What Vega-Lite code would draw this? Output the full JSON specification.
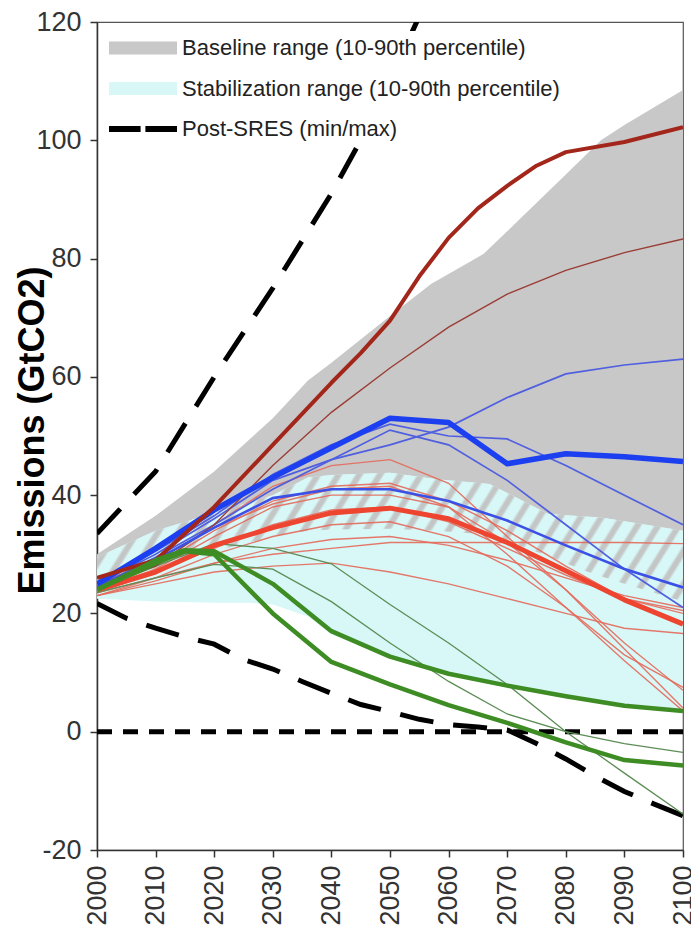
{
  "$schema": "https://vega.github.io/schema/vega-lite/v6.json",
  "width": 586,
  "height": 828,
  "autosize": {"type": "none"},
  "padding": {"left": 97, "top": 22, "right": 8, "bottom": 75},
  "background": "white",
  "config": {
    "font": "Liberation Sans",
    "view": {"stroke": "#555", "strokeWidth": 1.2},
    "axis": {"domainColor": "#333", "domainWidth": 1.5, "tickColor": "#333", "tickWidth": 1.5, "labelColor": "#333", "labelFontSize": 27, "grid": false, "labelFlush": false, "labelOverlap": false}
  },
  "datasets": {
    "baseline": [
      {"year": 2000, "v": 24.5, "hi": 30}, {"year": 2010, "v": 27, "hi": 36.5}, {"year": 2020, "v": 30.5, "hi": 44},
      {"year": 2030, "v": 33, "hi": 53}, {"year": 2036, "v": 34, "hi": 59.4}, {"year": 2040, "v": 34.2, "hi": 62.4},
      {"year": 2050, "v": 34.3, "hi": 70.3}, {"year": 2057, "v": 34, "hi": 75.7}, {"year": 2066, "v": 33.5, "hi": 80.8},
      {"year": 2070, "v": 32.5, "hi": 84.6}, {"year": 2080, "v": 28.5, "hi": 94.2}, {"year": 2086, "v": 26.3, "hi": 100},
      {"year": 2090, "v": 25, "hi": 102.6}, {"year": 2100, "v": 22, "hi": 108.5}
    ],
    "stab": [
      {"year": 2000, "v": 22.5, "hi": 29.5}, {"year": 2010, "v": 22, "hi": 34}, {"year": 2020, "v": 21.8, "hi": 37},
      {"year": 2026, "v": 21.8, "hi": 38.5}, {"year": 2030, "v": 21.5, "hi": 40}, {"year": 2036, "v": 19.5, "hi": 43},
      {"year": 2040, "v": 16.5, "hi": 43.4}, {"year": 2050, "v": 12.5, "hi": 43.8}, {"year": 2058, "v": 10.2, "hi": 42.7},
      {"year": 2067, "v": 8.2, "hi": 41.9}, {"year": 2077, "v": 6.5, "hi": 36.8}, {"year": 2086, "v": 5.2, "hi": 36.2},
      {"year": 2090, "v": 4.3, "hi": 35.6}, {"year": 2100, "v": 3.3, "hi": 34}
    ],
    "overlap": [
      {"year": 2000, "v": 24.5, "hi": 29.5}, {"year": 2010, "v": 27, "hi": 34}, {"year": 2020, "v": 30.5, "hi": 37},
      {"year": 2030, "v": 33, "hi": 40}, {"year": 2036, "v": 34, "hi": 43}, {"year": 2040, "v": 34.2, "hi": 43.4},
      {"year": 2050, "v": 34.3, "hi": 43.8}, {"year": 2058, "v": 34, "hi": 42.7}, {"year": 2067, "v": 33.3, "hi": 41.9},
      {"year": 2077, "v": 29.7, "hi": 36.8}, {"year": 2083, "v": 27.3, "hi": 36.4}, {"year": 2086, "v": 26.3, "hi": 36.2},
      {"year": 2090, "v": 25, "hi": 35.6}, {"year": 2100, "v": 22, "hi": 34}
    ],
    "zero": [{"year": 2000, "v": 0}, {"year": 2100, "v": 0}],
    "postsres": [
      {"s": "PU", "year": 2000, "v": 33.5}, {"s": "PU", "year": 2010, "v": 44}, {"s": "PU", "year": 2020, "v": 60},
      {"s": "PU", "year": 2030, "v": 75}, {"s": "PU", "year": 2040, "v": 91}, {"s": "PU", "year": 2045, "v": 100},
      {"s": "PU", "year": 2050, "v": 110}, {"s": "PU", "year": 2055, "v": 121},
      {"s": "PL", "year": 2000, "v": 21.7}, {"s": "PL", "year": 2005, "v": 19.2}, {"s": "PL", "year": 2010, "v": 17.5},
      {"s": "PL", "year": 2015, "v": 16.0}, {"s": "PL", "year": 2020, "v": 14.8}, {"s": "PL", "year": 2025, "v": 12.2},
      {"s": "PL", "year": 2030, "v": 10.6}, {"s": "PL", "year": 2035, "v": 8.5}, {"s": "PL", "year": 2040, "v": 6.5},
      {"s": "PL", "year": 2045, "v": 4.6}, {"s": "PL", "year": 2050, "v": 3.4}, {"s": "PL", "year": 2055, "v": 2.1},
      {"s": "PL", "year": 2060, "v": 1.2}, {"s": "PL", "year": 2065, "v": 0.8}, {"s": "PL", "year": 2070, "v": 0.3},
      {"s": "PL", "year": 2075, "v": -2}, {"s": "PL", "year": 2080, "v": -4.6}, {"s": "PL", "year": 2085, "v": -7.5},
      {"s": "PL", "year": 2090, "v": -10.1}, {"s": "PL", "year": 2095, "v": -12.2}, {"s": "PL", "year": 2100, "v": -14.2}
    ],
    "lines": [
      {"s": "R1", "year": 2000, "v": 24}, {"s": "R1", "year": 2010, "v": 28}, {"s": "R1", "year": 2020, "v": 35}, {"s": "R1", "year": 2030, "v": 41.5}, {"s": "R1", "year": 2040, "v": 45}, {"s": "R1", "year": 2050, "v": 46}, {"s": "R1", "year": 2060, "v": 42}, {"s": "R1", "year": 2070, "v": 33}, {"s": "R1", "year": 2080, "v": 24}, {"s": "R1", "year": 2090, "v": 15}, {"s": "R1", "year": 2100, "v": 7},
      {"s": "R2", "year": 2000, "v": 23.5}, {"s": "R2", "year": 2010, "v": 26}, {"s": "R2", "year": 2020, "v": 28.5}, {"s": "R2", "year": 2030, "v": 30}, {"s": "R2", "year": 2040, "v": 31}, {"s": "R2", "year": 2050, "v": 32}, {"s": "R2", "year": 2060, "v": 32}, {"s": "R2", "year": 2070, "v": 32}, {"s": "R2", "year": 2080, "v": 32}, {"s": "R2", "year": 2090, "v": 32}, {"s": "R2", "year": 2100, "v": 31.8},
      {"s": "R3", "year": 2000, "v": 23}, {"s": "R3", "year": 2010, "v": 25}, {"s": "R3", "year": 2020, "v": 27}, {"s": "R3", "year": 2030, "v": 28}, {"s": "R3", "year": 2040, "v": 28.5}, {"s": "R3", "year": 2050, "v": 27}, {"s": "R3", "year": 2060, "v": 25}, {"s": "R3", "year": 2070, "v": 22.5}, {"s": "R3", "year": 2080, "v": 20}, {"s": "R3", "year": 2090, "v": 17.5}, {"s": "R3", "year": 2100, "v": 16.6},
      {"s": "R4", "year": 2000, "v": 24}, {"s": "R4", "year": 2010, "v": 27.5}, {"s": "R4", "year": 2020, "v": 33}, {"s": "R4", "year": 2030, "v": 38}, {"s": "R4", "year": 2040, "v": 40}, {"s": "R4", "year": 2050, "v": 40}, {"s": "R4", "year": 2060, "v": 38}, {"s": "R4", "year": 2070, "v": 32}, {"s": "R4", "year": 2080, "v": 24}, {"s": "R4", "year": 2090, "v": 14}, {"s": "R4", "year": 2100, "v": 4},
      {"s": "R5", "year": 2000, "v": 24.5}, {"s": "R5", "year": 2010, "v": 28}, {"s": "R5", "year": 2020, "v": 34}, {"s": "R5", "year": 2030, "v": 39}, {"s": "R5", "year": 2040, "v": 41.5}, {"s": "R5", "year": 2050, "v": 42}, {"s": "R5", "year": 2060, "v": 39}, {"s": "R5", "year": 2070, "v": 34}, {"s": "R5", "year": 2080, "v": 28}, {"s": "R5", "year": 2090, "v": 22.5}, {"s": "R5", "year": 2100, "v": 20.5},
      {"s": "R6", "year": 2000, "v": 23.5}, {"s": "R6", "year": 2010, "v": 27}, {"s": "R6", "year": 2020, "v": 31}, {"s": "R6", "year": 2030, "v": 35}, {"s": "R6", "year": 2040, "v": 37.5}, {"s": "R6", "year": 2050, "v": 38}, {"s": "R6", "year": 2060, "v": 35.5}, {"s": "R6", "year": 2070, "v": 31}, {"s": "R6", "year": 2080, "v": 26.5}, {"s": "R6", "year": 2090, "v": 22.5}, {"s": "R6", "year": 2100, "v": 20},
      {"s": "R7", "year": 2000, "v": 23}, {"s": "R7", "year": 2010, "v": 26}, {"s": "R7", "year": 2020, "v": 30}, {"s": "R7", "year": 2030, "v": 33}, {"s": "R7", "year": 2040, "v": 35}, {"s": "R7", "year": 2050, "v": 35.5}, {"s": "R7", "year": 2060, "v": 33}, {"s": "R7", "year": 2070, "v": 28}, {"s": "R7", "year": 2080, "v": 21}, {"s": "R7", "year": 2090, "v": 13}, {"s": "R7", "year": 2100, "v": 7.5},
      {"s": "R8", "year": 2000, "v": 25}, {"s": "R8", "year": 2010, "v": 29}, {"s": "R8", "year": 2020, "v": 34.5}, {"s": "R8", "year": 2030, "v": 38.5}, {"s": "R8", "year": 2040, "v": 41}, {"s": "R8", "year": 2050, "v": 41.5}, {"s": "R8", "year": 2060, "v": 38}, {"s": "R8", "year": 2070, "v": 30}, {"s": "R8", "year": 2080, "v": 21}, {"s": "R8", "year": 2090, "v": 12}, {"s": "R8", "year": 2100, "v": 3.5},
      {"s": "R9", "year": 2000, "v": 23}, {"s": "R9", "year": 2010, "v": 25.5}, {"s": "R9", "year": 2020, "v": 28.5}, {"s": "R9", "year": 2030, "v": 31}, {"s": "R9", "year": 2040, "v": 32.5}, {"s": "R9", "year": 2050, "v": 33}, {"s": "R9", "year": 2060, "v": 31.5}, {"s": "R9", "year": 2070, "v": 29}, {"s": "R9", "year": 2080, "v": 26}, {"s": "R9", "year": 2090, "v": 23}, {"s": "R9", "year": 2100, "v": 21},
      {"s": "RT", "year": 2000, "v": 24}, {"s": "RT", "year": 2010, "v": 27}, {"s": "RT", "year": 2020, "v": 31.5}, {"s": "RT", "year": 2030, "v": 34.5}, {"s": "RT", "year": 2040, "v": 37}, {"s": "RT", "year": 2050, "v": 37.8}, {"s": "RT", "year": 2060, "v": 36}, {"s": "RT", "year": 2070, "v": 32}, {"s": "RT", "year": 2080, "v": 27.2}, {"s": "RT", "year": 2090, "v": 22.3}, {"s": "RT", "year": 2100, "v": 18.2},
      {"s": "B1", "year": 2000, "v": 25}, {"s": "B1", "year": 2010, "v": 30}, {"s": "B1", "year": 2020, "v": 36}, {"s": "B1", "year": 2030, "v": 42.5}, {"s": "B1", "year": 2040, "v": 46}, {"s": "B1", "year": 2050, "v": 48.5}, {"s": "B1", "year": 2060, "v": 51.5}, {"s": "B1", "year": 2070, "v": 56.5}, {"s": "B1", "year": 2080, "v": 60.5}, {"s": "B1", "year": 2090, "v": 62}, {"s": "B1", "year": 2100, "v": 63},
      {"s": "B2", "year": 2000, "v": 25}, {"s": "B2", "year": 2010, "v": 30.5}, {"s": "B2", "year": 2020, "v": 36.5}, {"s": "B2", "year": 2030, "v": 43.5}, {"s": "B2", "year": 2040, "v": 48.5}, {"s": "B2", "year": 2050, "v": 52}, {"s": "B2", "year": 2060, "v": 50}, {"s": "B2", "year": 2070, "v": 49.5}, {"s": "B2", "year": 2080, "v": 45}, {"s": "B2", "year": 2090, "v": 40}, {"s": "B2", "year": 2100, "v": 35},
      {"s": "B4", "year": 2000, "v": 24.5}, {"s": "B4", "year": 2010, "v": 29.5}, {"s": "B4", "year": 2020, "v": 35}, {"s": "B4", "year": 2030, "v": 41}, {"s": "B4", "year": 2040, "v": 46}, {"s": "B4", "year": 2050, "v": 51}, {"s": "B4", "year": 2060, "v": 48.5}, {"s": "B4", "year": 2070, "v": 42.5}, {"s": "B4", "year": 2080, "v": 35}, {"s": "B4", "year": 2090, "v": 27.5}, {"s": "B4", "year": 2100, "v": 21},
      {"s": "BM", "year": 2000, "v": 24.5}, {"s": "BM", "year": 2010, "v": 29}, {"s": "BM", "year": 2020, "v": 34.5}, {"s": "BM", "year": 2030, "v": 39.5}, {"s": "BM", "year": 2040, "v": 41}, {"s": "BM", "year": 2050, "v": 41}, {"s": "BM", "year": 2060, "v": 39}, {"s": "BM", "year": 2070, "v": 35.7}, {"s": "BM", "year": 2080, "v": 31.5}, {"s": "BM", "year": 2090, "v": 27.5}, {"s": "BM", "year": 2100, "v": 24.4},
      {"s": "BT", "year": 2000, "v": 25}, {"s": "BT", "year": 2010, "v": 31}, {"s": "BT", "year": 2020, "v": 37.5}, {"s": "BT", "year": 2030, "v": 43}, {"s": "BT", "year": 2040, "v": 48}, {"s": "BT", "year": 2050, "v": 53}, {"s": "BT", "year": 2060, "v": 52.3}, {"s": "BT", "year": 2070, "v": 45.3}, {"s": "BT", "year": 2080, "v": 47}, {"s": "BT", "year": 2090, "v": 46.5}, {"s": "BT", "year": 2100, "v": 45.7},
      {"s": "DT", "year": 2000, "v": 25}, {"s": "DT", "year": 2010, "v": 28}, {"s": "DT", "year": 2020, "v": 35}, {"s": "DT", "year": 2030, "v": 45}, {"s": "DT", "year": 2040, "v": 54}, {"s": "DT", "year": 2050, "v": 61.5}, {"s": "DT", "year": 2060, "v": 68.4}, {"s": "DT", "year": 2070, "v": 74}, {"s": "DT", "year": 2080, "v": 78}, {"s": "DT", "year": 2090, "v": 81}, {"s": "DT", "year": 2100, "v": 83.3},
      {"s": "DK", "year": 2000, "v": 26}, {"s": "DK", "year": 2010, "v": 29}, {"s": "DK", "year": 2020, "v": 38}, {"s": "DK", "year": 2030, "v": 48.5}, {"s": "DK", "year": 2040, "v": 59}, {"s": "DK", "year": 2045, "v": 64}, {"s": "DK", "year": 2050, "v": 69.5}, {"s": "DK", "year": 2055, "v": 77}, {"s": "DK", "year": 2060, "v": 83.5}, {"s": "DK", "year": 2065, "v": 88.5}, {"s": "DK", "year": 2070, "v": 92.3}, {"s": "DK", "year": 2075, "v": 95.7}, {"s": "DK", "year": 2080, "v": 98}, {"s": "DK", "year": 2090, "v": 99.7}, {"s": "DK", "year": 2100, "v": 102.2},
      {"s": "G1", "year": 2000, "v": 24}, {"s": "G1", "year": 2010, "v": 29}, {"s": "G1", "year": 2015, "v": 30.7}, {"s": "G1", "year": 2020, "v": 30.5}, {"s": "G1", "year": 2030, "v": 25}, {"s": "G1", "year": 2040, "v": 17}, {"s": "G1", "year": 2050, "v": 12.7}, {"s": "G1", "year": 2060, "v": 9.8}, {"s": "G1", "year": 2070, "v": 7.8}, {"s": "G1", "year": 2080, "v": 6}, {"s": "G1", "year": 2090, "v": 4.4}, {"s": "G1", "year": 2100, "v": 3.5},
      {"s": "G2", "year": 2000, "v": 24}, {"s": "G2", "year": 2010, "v": 28.5}, {"s": "G2", "year": 2015, "v": 30.5}, {"s": "G2", "year": 2020, "v": 30}, {"s": "G2", "year": 2030, "v": 20}, {"s": "G2", "year": 2040, "v": 11.8}, {"s": "G2", "year": 2050, "v": 8}, {"s": "G2", "year": 2060, "v": 4.5}, {"s": "G2", "year": 2070, "v": 1.5}, {"s": "G2", "year": 2080, "v": -1.8}, {"s": "G2", "year": 2090, "v": -4.8}, {"s": "G2", "year": 2100, "v": -5.7},
      {"s": "G3", "year": 2000, "v": 24}, {"s": "G3", "year": 2010, "v": 28}, {"s": "G3", "year": 2020, "v": 31.8}, {"s": "G3", "year": 2030, "v": 31}, {"s": "G3", "year": 2040, "v": 28.4}, {"s": "G3", "year": 2050, "v": 21.5}, {"s": "G3", "year": 2060, "v": 15}, {"s": "G3", "year": 2070, "v": 8}, {"s": "G3", "year": 2080, "v": 0}, {"s": "G3", "year": 2090, "v": -7}, {"s": "G3", "year": 2100, "v": -13.9},
      {"s": "G4", "year": 2000, "v": 23.5}, {"s": "G4", "year": 2010, "v": 26}, {"s": "G4", "year": 2020, "v": 28.3}, {"s": "G4", "year": 2030, "v": 27.5}, {"s": "G4", "year": 2040, "v": 22}, {"s": "G4", "year": 2050, "v": 15}, {"s": "G4", "year": 2060, "v": 8.5}, {"s": "G4", "year": 2070, "v": 3}, {"s": "G4", "year": 2080, "v": 0}, {"s": "G4", "year": 2090, "v": -2}, {"s": "G4", "year": 2100, "v": -3.5}
    ],
    "legendrows": [
      {"legend": "Baseline range (10-90th percentile)"},
      {"legend": "Stabilization range (10-90th percentile)"},
      {"legend": "Post-SRES (min/max)"}
    ]
  },
  "encoding": {
    "x": {
      "field": "year", "type": "quantitative",
      "scale": {"domain": [2000, 2100], "nice": false, "zero": false},
      "axis": {"values": [2000, 2010, 2020, 2030, 2040, 2050, 2060, 2070, 2080, 2090, 2100], "labelExpr": "'' + datum.value", "labelAngle": -90, "title": null, "tickSize": 7, "labelPadding": 8}
    },
    "y": {
      "field": "v", "type": "quantitative",
      "scale": {"domain": [-20, 120], "nice": false, "zero": false},
      "axis": {"values": [-20, 0, 20, 40, 60, 80, 100, 120], "labelExpr": "'' + datum.value", "tickSize": 7, "labelPadding": 9,
        "title": "Emissions (GtCO2)", "titleFontSize": 36, "titleFontWeight": "bold", "titleColor": "#000", "titleX": -65, "titleY": 408, "titleAngle": -90, "titleAlign": "center", "titleBaseline": "middle"}
    }
  },
  "layer": [
    {"data": {"name": "baseline"}, "mark": {"type": "area", "fill": "#c8c8c8", "clip": true}, "encoding": {"y2": {"field": "hi"}}},
    {"data": {"name": "stab"}, "mark": {"type": "area", "fill": "#d8f8f8", "clip": true}, "encoding": {"y2": {"field": "hi"}}},
    {"data": {"name": "overlap"}, "mark": {"type": "area", "clip": true, "fill": {"gradient": "linear", "x1": 0, "y1": 0, "x2": 1.1166, "y2": 0.1536, "stops": [
      {"offset": 0, "color": "#d8f8f8"}, {"offset": 0.0155, "color": "#d8f8f8"}, {"offset": 0.0202, "color": "#c4c6c6"}, {"offset": 0.0264, "color": "#c4c6c6"},
      {"offset": 0.031, "color": "#d8f8f8"}, {"offset": 0.0465, "color": "#d8f8f8"}, {"offset": 0.0512, "color": "#c4c6c6"}, {"offset": 0.0574, "color": "#c4c6c6"},
      {"offset": 0.062, "color": "#d8f8f8"}, {"offset": 0.0775, "color": "#d8f8f8"}, {"offset": 0.0822, "color": "#c4c6c6"}, {"offset": 0.0884, "color": "#c4c6c6"},
      {"offset": 0.093, "color": "#d8f8f8"}, {"offset": 0.1085, "color": "#d8f8f8"}, {"offset": 0.1132, "color": "#c4c6c6"}, {"offset": 0.1194, "color": "#c4c6c6"},
      {"offset": 0.124, "color": "#d8f8f8"}, {"offset": 0.1395, "color": "#d8f8f8"}, {"offset": 0.1442, "color": "#c4c6c6"}, {"offset": 0.1504, "color": "#c4c6c6"},
      {"offset": 0.155, "color": "#d8f8f8"}, {"offset": 0.1705, "color": "#d8f8f8"}, {"offset": 0.1752, "color": "#c4c6c6"}, {"offset": 0.1814, "color": "#c4c6c6"},
      {"offset": 0.186, "color": "#d8f8f8"}, {"offset": 0.2015, "color": "#d8f8f8"}, {"offset": 0.2062, "color": "#c4c6c6"}, {"offset": 0.2124, "color": "#c4c6c6"},
      {"offset": 0.217, "color": "#d8f8f8"}, {"offset": 0.2325, "color": "#d8f8f8"}, {"offset": 0.2372, "color": "#c4c6c6"}, {"offset": 0.2434, "color": "#c4c6c6"},
      {"offset": 0.248, "color": "#d8f8f8"}, {"offset": 0.2635, "color": "#d8f8f8"}, {"offset": 0.2682, "color": "#c4c6c6"}, {"offset": 0.2744, "color": "#c4c6c6"},
      {"offset": 0.279, "color": "#d8f8f8"}, {"offset": 0.2945, "color": "#d8f8f8"}, {"offset": 0.2992, "color": "#c4c6c6"}, {"offset": 0.3054, "color": "#c4c6c6"},
      {"offset": 0.31, "color": "#d8f8f8"}, {"offset": 0.3255, "color": "#d8f8f8"}, {"offset": 0.3302, "color": "#c4c6c6"}, {"offset": 0.3364, "color": "#c4c6c6"},
      {"offset": 0.341, "color": "#d8f8f8"}, {"offset": 0.3565, "color": "#d8f8f8"}, {"offset": 0.3612, "color": "#c4c6c6"}, {"offset": 0.3674, "color": "#c4c6c6"},
      {"offset": 0.372, "color": "#d8f8f8"}, {"offset": 0.3875, "color": "#d8f8f8"}, {"offset": 0.3922, "color": "#c4c6c6"}, {"offset": 0.3984, "color": "#c4c6c6"},
      {"offset": 0.403, "color": "#d8f8f8"}, {"offset": 0.4185, "color": "#d8f8f8"}, {"offset": 0.4232, "color": "#c4c6c6"}, {"offset": 0.4294, "color": "#c4c6c6"},
      {"offset": 0.434, "color": "#d8f8f8"}, {"offset": 0.4495, "color": "#d8f8f8"}, {"offset": 0.4542, "color": "#c4c6c6"}, {"offset": 0.4604, "color": "#c4c6c6"},
      {"offset": 0.465, "color": "#d8f8f8"}, {"offset": 0.4805, "color": "#d8f8f8"}, {"offset": 0.4852, "color": "#c4c6c6"}, {"offset": 0.4914, "color": "#c4c6c6"},
      {"offset": 0.496, "color": "#d8f8f8"}, {"offset": 0.5115, "color": "#d8f8f8"}, {"offset": 0.5162, "color": "#c4c6c6"}, {"offset": 0.5224, "color": "#c4c6c6"},
      {"offset": 0.527, "color": "#d8f8f8"}, {"offset": 0.5425, "color": "#d8f8f8"}, {"offset": 0.5472, "color": "#c4c6c6"}, {"offset": 0.5534, "color": "#c4c6c6"},
      {"offset": 0.558, "color": "#d8f8f8"}, {"offset": 0.5735, "color": "#d8f8f8"}, {"offset": 0.5782, "color": "#c4c6c6"}, {"offset": 0.5844, "color": "#c4c6c6"},
      {"offset": 0.589, "color": "#d8f8f8"}, {"offset": 0.6045, "color": "#d8f8f8"}, {"offset": 0.6092, "color": "#c4c6c6"}, {"offset": 0.6154, "color": "#c4c6c6"},
      {"offset": 0.62, "color": "#d8f8f8"}, {"offset": 0.6355, "color": "#d8f8f8"}, {"offset": 0.6402, "color": "#c4c6c6"}, {"offset": 0.6464, "color": "#c4c6c6"},
      {"offset": 0.651, "color": "#d8f8f8"}, {"offset": 0.6665, "color": "#d8f8f8"}, {"offset": 0.6712, "color": "#c4c6c6"}, {"offset": 0.6774, "color": "#c4c6c6"},
      {"offset": 0.682, "color": "#d8f8f8"}, {"offset": 0.6975, "color": "#d8f8f8"}, {"offset": 0.7022, "color": "#c4c6c6"}, {"offset": 0.7084, "color": "#c4c6c6"},
      {"offset": 0.713, "color": "#d8f8f8"}, {"offset": 0.7285, "color": "#d8f8f8"}, {"offset": 0.7332, "color": "#c4c6c6"}, {"offset": 0.7394, "color": "#c4c6c6"},
      {"offset": 0.744, "color": "#d8f8f8"}, {"offset": 0.7595, "color": "#d8f8f8"}, {"offset": 0.7642, "color": "#c4c6c6"}, {"offset": 0.7704, "color": "#c4c6c6"},
      {"offset": 0.775, "color": "#d8f8f8"}, {"offset": 0.7905, "color": "#d8f8f8"}, {"offset": 0.7952, "color": "#c4c6c6"}, {"offset": 0.8014, "color": "#c4c6c6"},
      {"offset": 0.806, "color": "#d8f8f8"}, {"offset": 0.8215, "color": "#d8f8f8"}, {"offset": 0.8262, "color": "#c4c6c6"}, {"offset": 0.8324, "color": "#c4c6c6"},
      {"offset": 0.837, "color": "#d8f8f8"}, {"offset": 0.8525, "color": "#d8f8f8"}, {"offset": 0.8572, "color": "#c4c6c6"}, {"offset": 0.8634, "color": "#c4c6c6"},
      {"offset": 0.868, "color": "#d8f8f8"}, {"offset": 0.8835, "color": "#d8f8f8"}, {"offset": 0.8882, "color": "#c4c6c6"}, {"offset": 0.8944, "color": "#c4c6c6"},
      {"offset": 0.899, "color": "#d8f8f8"}, {"offset": 0.9145, "color": "#d8f8f8"}, {"offset": 0.9192, "color": "#c4c6c6"}, {"offset": 0.9254, "color": "#c4c6c6"},
      {"offset": 0.93, "color": "#d8f8f8"}, {"offset": 0.9455, "color": "#d8f8f8"}, {"offset": 0.9502, "color": "#c4c6c6"}, {"offset": 0.9564, "color": "#c4c6c6"},
      {"offset": 0.961, "color": "#d8f8f8"}, {"offset": 0.9765, "color": "#d8f8f8"}, {"offset": 0.9812, "color": "#c4c6c6"}, {"offset": 0.9874, "color": "#c4c6c6"},
      {"offset": 0.992, "color": "#d8f8f8"}, {"offset": 1, "color": "#d8f8f8"}
    ]}}, "encoding": {"y2": {"field": "hi"}}},
    {"data": {"name": "zero"}, "mark": {"type": "line", "color": "#000", "strokeWidth": 5, "strokeDash": [15, 11]}, "encoding": {}},
    {"data": {"name": "postsres"}, "mark": {"type": "line", "color": "#000", "strokeWidth": 5, "strokeDash": [34, 20], "clip": true}, "encoding": {"detail": {"field": "s"}}},
    {"data": {"name": "lines"}, "transform": [{"filter": {"field": "s", "oneOf": ["R1", "R2", "R3", "R4", "R5", "R6", "R7", "R8", "R9"]}}],
      "mark": {"type": "line", "color": "#e4695a", "strokeWidth": 1.4, "opacity": 0.9, "clip": true}, "encoding": {"detail": {"field": "s"}}},
    {"data": {"name": "lines"}, "transform": [{"filter": {"field": "s", "oneOf": ["G3", "G4"]}}],
      "mark": {"type": "line", "color": "#5b8d55", "strokeWidth": 1.3, "clip": true}, "encoding": {"detail": {"field": "s"}}},
    {"data": {"name": "lines"}, "transform": [{"filter": {"field": "s", "oneOf": ["B1", "B2", "B4"]}}],
      "mark": {"type": "line", "color": "#4f5fe0", "strokeWidth": 1.7, "clip": true}, "encoding": {"detail": {"field": "s"}}},
    {"data": {"name": "lines"}, "transform": [{"filter": {"field": "s", "oneOf": ["DT"]}}],
      "mark": {"type": "line", "color": "#9a3d35", "strokeWidth": 1.4, "clip": true}, "encoding": {}},
    {"data": {"name": "lines"}, "transform": [{"filter": {"field": "s", "oneOf": ["BM"]}}],
      "mark": {"type": "line", "color": "#3a50e6", "strokeWidth": 2.6, "clip": true}, "encoding": {}},
    {"data": {"name": "lines"}, "transform": [{"filter": {"field": "s", "oneOf": ["RT"]}}],
      "mark": {"type": "line", "color": "#ee4530", "strokeWidth": 5, "clip": true, "strokeJoin": "round"}, "encoding": {}},
    {"data": {"name": "lines"}, "transform": [{"filter": {"field": "s", "oneOf": ["BT"]}}],
      "mark": {"type": "line", "color": "#1c3ff0", "strokeWidth": 5.5, "clip": true, "strokeJoin": "round"}, "encoding": {}},
    {"data": {"name": "lines"}, "transform": [{"filter": {"field": "s", "oneOf": ["DK"]}}],
      "mark": {"type": "line", "color": "#a3261b", "strokeWidth": 4, "clip": true, "strokeJoin": "round"}, "encoding": {}},
    {"data": {"name": "lines"}, "transform": [{"filter": {"field": "s", "oneOf": ["G1", "G2"]}}],
      "mark": {"type": "line", "color": "#3e8c24", "strokeWidth": 4.5, "clip": true, "strokeJoin": "round"}, "encoding": {"detail": {"field": "s"}}},
    {"data": {"name": "legendrows"}, "mark": {"type": "point", "filled": true, "opacity": 0},
      "encoding": {
        "color": {"field": "legend", "type": "nominal",
          "scale": {"domain": ["Baseline range (10-90th percentile)", "Stabilization range (10-90th percentile)", "Post-SRES (min/max)"], "range": ["#c8c8c8", "#d8f8f8", "#000000"]},
          "legend": {"title": null, "orient": "none", "legendX": 29, "legendY": 9, "symbolSize": 400, "symbolStrokeWidth": 0, "symbolOpacity": 1, "labelFontSize": 22, "labelColor": "#222", "labelLimit": 0, "labelOffset": 28, "rowPadding": 18.5, "fillColor": "white", "padding": 6, "zindex": 1}},
        "shape": {"field": "legend", "type": "nominal",
          "scale": {"domain": ["Baseline range (10-90th percentile)", "Stabilization range (10-90th percentile)", "Post-SRES (min/max)"], "range": ["M-3.4,-0.65H3.4V0.65H-3.4Z", "M-3.4,-0.65H3.4V0.65H-3.4Z", "M-3.4,-0.29H-0.24V0.29H-3.4Z M0.24,-0.29H3.4V0.29H0.24Z"]},
          "legend": {"title": null, "orient": "none", "legendX": 29, "legendY": 9, "symbolSize": 400, "symbolStrokeWidth": 0, "symbolOpacity": 1, "labelFontSize": 22, "labelColor": "#222", "labelLimit": 0, "labelOffset": 28, "rowPadding": 18.5, "fillColor": "white", "padding": 6, "zindex": 1}}
      }}
  ]
}
